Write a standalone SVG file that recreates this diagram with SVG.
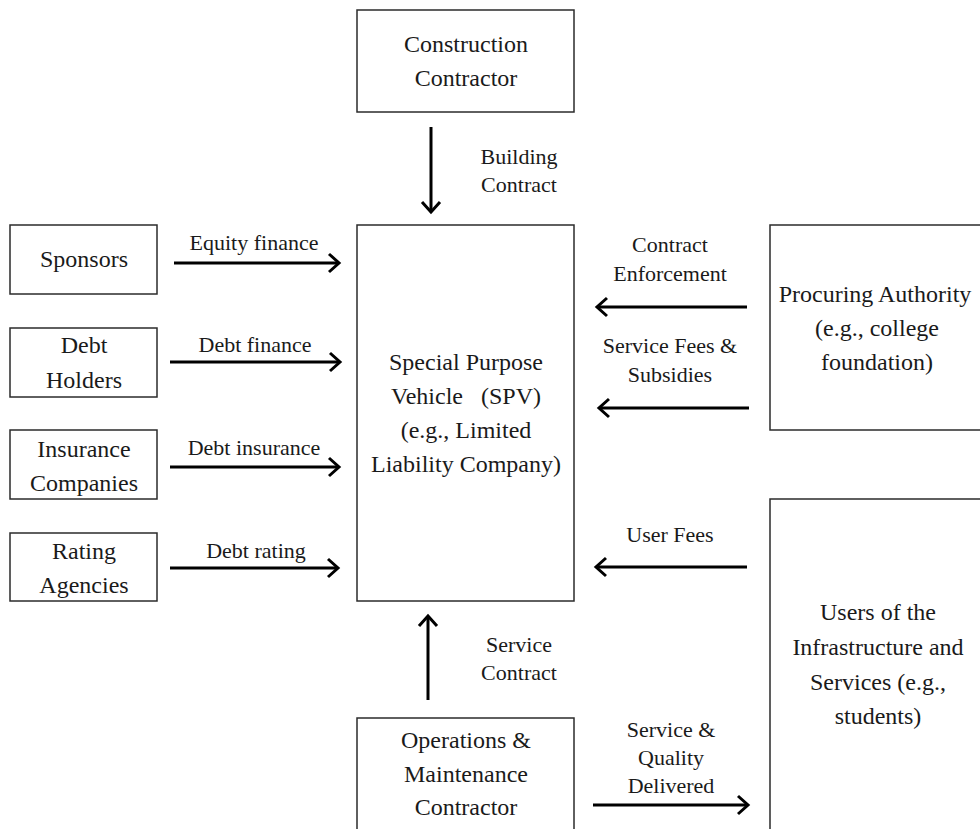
<svg xmlns="http://www.w3.org/2000/svg" width="980" height="829" viewBox="0 0 980 829">
  <defs>
    <style>
      .box { fill: #ffffff; stroke: #2b2b2b; stroke-width: 1.5; }
      .big { font-family: "Liberation Serif", "Times New Roman", serif; font-size: 24px; fill: #1a1a1a; text-anchor: middle; }
      .lbl { font-family: "Liberation Serif", "Times New Roman", serif; font-size: 22px; fill: #1a1a1a; text-anchor: middle; }
      .arrow { fill: none; stroke: #000000; stroke-width: 3; marker-end: url(#chev); }
    </style>
    <marker id="chev" markerUnits="userSpaceOnUse" viewBox="-14 -12 18 24" refX="0" refY="0" markerWidth="18" markerHeight="24" orient="auto" overflow="visible">
      <path d="M-10,-9 L0,0 L-10,9" fill="none" stroke="#000000" stroke-width="3"/>
    </marker>
  </defs>
  <rect width="980" height="829" fill="#ffffff"/>

  <!-- connectors -->
  <g id="connectors">
    <path class="arrow" d="M431,127 L431,212"/>
    <path class="arrow" d="M174,263 L339,263"/>
    <path class="arrow" d="M170,362 L340,362"/>
    <path class="arrow" d="M170,467 L339,467"/>
    <path class="arrow" d="M170,568 L338,568"/>
    <path class="arrow" d="M747,307 L597,307"/>
    <path class="arrow" d="M749,408 L599,408"/>
    <path class="arrow" d="M747,567 L596,567"/>
    <path class="arrow" d="M428,700 L428,616"/>
    <path class="arrow" d="M593,805 L748,805"/>
    <text class="lbl" x="519" y="164">Building</text>
    <text class="lbl" x="519" y="192">Contract</text>
    <text class="lbl" x="254" y="250">Equity finance</text>
    <text class="lbl" x="255" y="352">Debt finance</text>
    <text class="lbl" x="254" y="455">Debt insurance</text>
    <text class="lbl" x="256" y="558">Debt rating</text>
    <text class="lbl" x="670" y="252">Contract</text>
    <text class="lbl" x="670" y="281">Enforcement</text>
    <text class="lbl" x="670" y="353">Service Fees &amp;</text>
    <text class="lbl" x="670" y="382">Subsidies</text>
    <text class="lbl" x="670" y="542">User Fees</text>
    <text class="lbl" x="519" y="652">Service</text>
    <text class="lbl" x="519" y="680">Contract</text>
    <text class="lbl" x="671" y="737">Service &amp;</text>
    <text class="lbl" x="671" y="765">Quality</text>
    <text class="lbl" x="671" y="793">Delivered</text>
  </g>

  <g id="construction-contractor">
    <rect class="box" x="357" y="10" width="217" height="102"/>
    <text class="big" x="466" y="52">Construction</text>
    <text class="big" x="466" y="86">Contractor</text>
  </g>

  <g id="spv">
    <rect class="box" x="357" y="225" width="217" height="376"/>
    <text class="big" x="466" y="370">Special Purpose</text>
    <text class="big" x="466" y="404" xml:space="preserve">Vehicle   (SPV)</text>
    <text class="big" x="466" y="438">(e.g., Limited</text>
    <text class="big" x="466" y="472">Liability Company)</text>
  </g>

  <g id="sponsors">
    <rect class="box" x="10" y="225" width="147" height="69"/>
    <text class="big" x="84" y="267">Sponsors</text>
  </g>

  <g id="debt-holders">
    <rect class="box" x="10" y="328" width="147" height="69"/>
    <text class="big" x="84" y="353">Debt</text>
    <text class="big" x="84" y="388">Holders</text>
  </g>

  <g id="insurance-companies">
    <rect class="box" x="10" y="430" width="147" height="69"/>
    <text class="big" x="84" y="457">Insurance</text>
    <text class="big" x="84" y="491">Companies</text>
  </g>

  <g id="rating-agencies">
    <rect class="box" x="10" y="533" width="147" height="68"/>
    <text class="big" x="84" y="559">Rating</text>
    <text class="big" x="84" y="593">Agencies</text>
  </g>

  <g id="procuring-authority">
    <rect class="box" x="770" y="225" width="214" height="205"/>
    <text class="big" x="875" y="302">Procuring Authority</text>
    <text class="big" x="877" y="336">(e.g., college</text>
    <text class="big" x="877" y="370">foundation)</text>
  </g>

  <g id="users">
    <rect class="box" x="770" y="499" width="214" height="340"/>
    <text class="big" x="878" y="620">Users of the</text>
    <text class="big" x="878" y="655">Infrastructure and</text>
    <text class="big" x="878" y="690">Services (e.g.,</text>
    <text class="big" x="878" y="724">students)</text>
  </g>

  <g id="om-contractor">
    <rect class="box" x="357" y="718" width="217" height="121"/>
    <text class="big" x="466" y="748">Operations &amp;</text>
    <text class="big" x="466" y="782">Maintenance</text>
    <text class="big" x="466" y="815">Contractor</text>
  </g>
</svg>
